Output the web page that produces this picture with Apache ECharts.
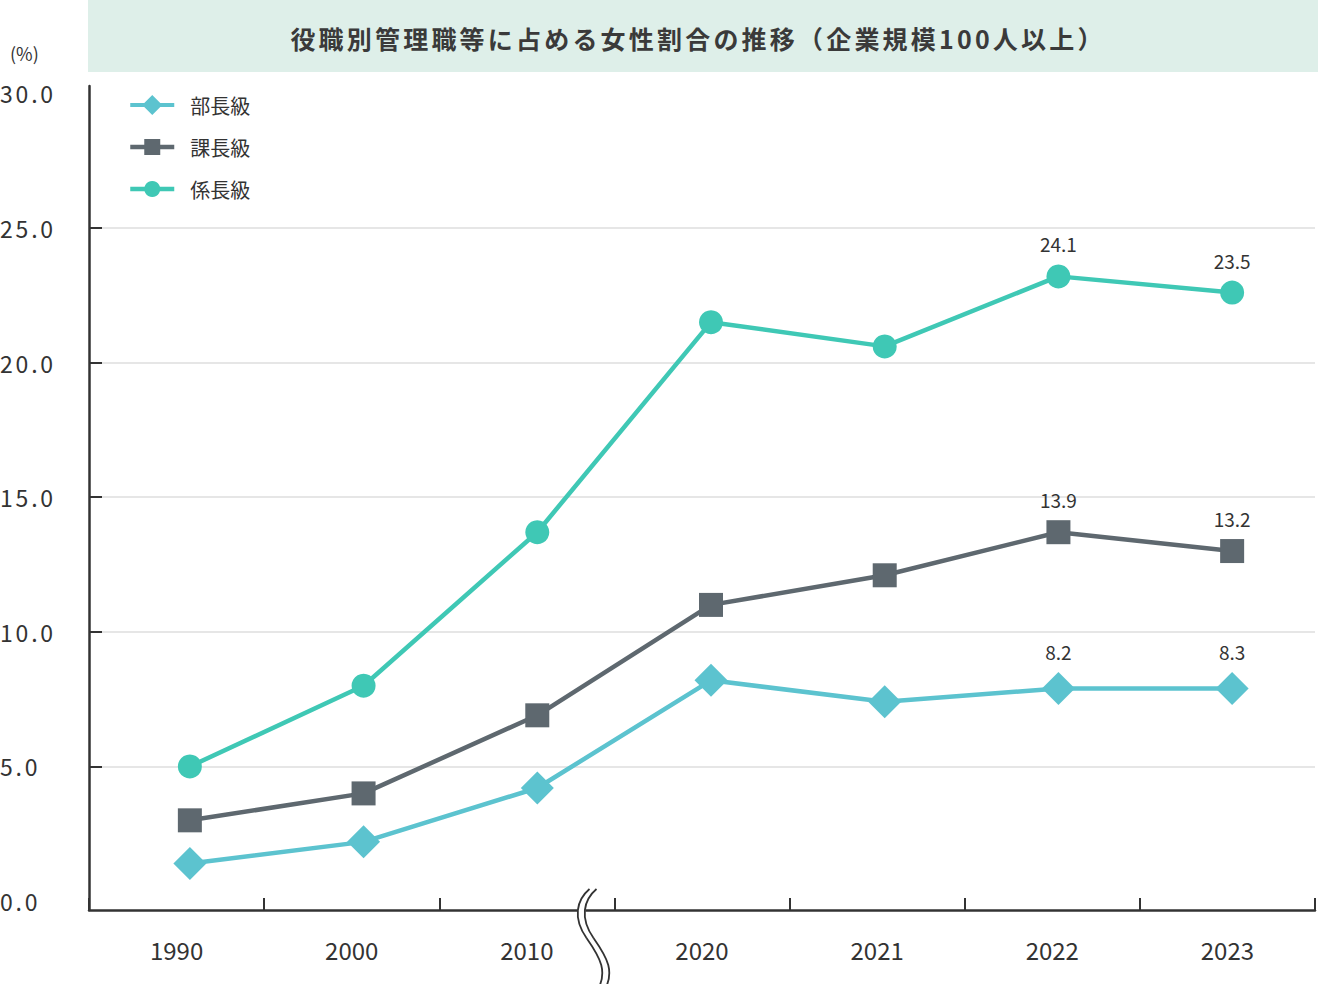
<!DOCTYPE html>
<html>
<head>
<meta charset="utf-8">
<script src="https://cdn.jsdelivr.net/npm/echarts@6/dist/echarts.min.js"></script>
<style>
  html, body { margin: 0; padding: 0; background: #fff; }
  #chart { width: 1318px; height: 984px; }
  #chart text[style*="25px"] { letter-spacing: 3.2px; }
  #chart text[style*="23px"] { letter-spacing: 2.8px; }
</style>
</head>
<body>
<div id="chart"></div>
<script>
const titleText = '役職別管理職等に占める女性割合の推移（企業規模100人以上）';
const unitText = '(%)';
const categories = ['1990', '2000', '2010', '2020', '2021', '2022', '2023'];
const seriesNames = ['部長級', '課長級', '係長級'];
const buchoValues = [1.4, 2.2, 4.2, 8.2, 7.4, 7.9, 7.9];
const kachoValues = [3.0, 4.0, 6.9, 11.0, 12.1, 13.7, 13.0];
const kakarichoValues = [5.0, 8.0, 13.7, 21.5, 20.6, 23.2, 22.6];
const buchoLabels = ['', '', '', '', '', '8.2', '8.3'];
const kachoLabels = ['', '', '', '', '', '13.9', '13.2'];
const kakarichoLabels = ['', '', '', '', '', '24.1', '23.5'];
const yLabelValues = [0, 5, 10, 15, 20, 25, 30];
const yTickValues = [5, 10, 15, 20, 25];

const FONT = "'Noto Sans CJK JP', 'Noto Sans', sans-serif";
const TEXT = '#333333';
const AXIS = '#333333';
const C_BUCHO = '#5cc3cf';
const C_KACHO = '#5e686f';
const C_KAKARI = '#3fc8b5';
const Y_MIN = -0.33, Y_MAX = 30.27;

const chart = echarts.init(document.getElementById('chart'), null, { renderer: 'svg' });

function mkSeries(name, values, labels, symbol, size, color) {
  return {
    name: name, type: 'line', xAxisIndex: 1, yAxisIndex: 1,
    data: values, symbol: symbol, symbolSize: size,
    lineStyle: { color: color, width: 4.5 },
    itemStyle: { color: color },
    emphasis: { disabled: true },
    label: {
      show: true, position: 'top', distance: 11,
      color: TEXT, fontSize: 19, fontFamily: FONT,
      formatter: function (p) { return labels[p.dataIndex]; }
    },
    z: 3
  };
}

// break mark (two S-curves), drawn as decoration
const breakSegs = [
  { x1: 593, y1: 889, cpx1: 580, cpy1: 900, cpx2: 576, cpy2: 918, x2: 590, y2: 938 },
  { x1: 590, y1: 938, cpx1: 604, cpy1: 958, cpx2: 612, cpy2: 972, x2: 600, y2: 992 }
];
const breakGraphics = [];
breakSegs.forEach(function (s) {
  breakGraphics.push({ type: 'bezierCurve', shape: s, style: { fill: null, stroke: '#ffffff', lineWidth: 8 }, z: 100 });
  breakGraphics.push({ type: 'bezierCurve', x: -3.5, shape: s, style: { fill: null, stroke: AXIS, lineWidth: 1.8 }, z: 101 });
  breakGraphics.push({ type: 'bezierCurve', x: 3.5, shape: s, style: { fill: null, stroke: AXIS, lineWidth: 1.8 }, z: 101 });
});

chart.setOption({
  animation: false,
  backgroundColor: '#ffffff',
  textStyle: { fontFamily: FONT },
  grid: [
    { left: 89, right: 3, top: 86, bottom: 74, outerBoundsMode: 'none', containLabel: false },
    { left: 103, right: -1, top: 86, bottom: 74, outerBoundsMode: 'none', containLabel: false }
  ],
  legend: {
    orient: 'vertical', left: 128, top: 95, padding: 0,
    itemWidth: 44, itemHeight: 20, itemGap: 22,
    selectedMode: false,
    lineStyle: { width: 4.5 },
    textStyle: { fontSize: 20, color: TEXT, fontFamily: FONT, padding: [0, 0, 0, 11] },
    data: [
      { name: seriesNames[0], icon: 'path://M0,8 H44 V12 H0 Z M22,0 L32,10 L22,20 L12,10 Z' },
      { name: seriesNames[1] },
      { name: seriesNames[2] }
    ]
  },
  xAxis: [
    {
      type: 'category', gridIndex: 0, data: categories, boundaryGap: true,
      axisLine: { show: true, onZero: false, lineStyle: { color: AXIS, width: 2.5 } },
      axisTick: { show: true, inside: true, length: 12, lineStyle: { color: AXIS, width: 2 } },
      axisLabel: { color: TEXT, fontSize: 24, fontFamily: FONT, margin: 27 },
      splitLine: { show: false }
    },
    {
      type: 'category', gridIndex: 1, data: categories, boundaryGap: true, show: false
    }
  ],
  yAxis: [
    {
      type: 'value', gridIndex: 0, min: Y_MIN, max: Y_MAX,
      axisLine: { show: true, onZero: false, lineStyle: { color: AXIS, width: 2.5 } },
      axisTick: { show: true, inside: true, length: 13, customValues: yTickValues, lineStyle: { color: AXIS, width: 2 } },
      axisLabel: {
        customValues: yLabelValues, color: TEXT, fontSize: 23, fontFamily: FONT,
        align: 'left', margin: 89,
        formatter: function (v) { return Number(v).toFixed(1); }
      },
      splitLine: { show: true, lineStyle: { color: '#e6e6e6', width: 2 } }
    },
    { type: 'value', gridIndex: 1, min: Y_MIN, max: Y_MAX, show: false }
  ],
  graphic: [
    { type: 'rect', shape: { x: 88, y: 0, width: 1230, height: 72 }, style: { fill: '#deefe9' }, z: -10 },
    { type: 'text', x: 698, y: 38, style: { text: titleText, font: 'bold 25px ' + FONT, fill: '#3a3a3a', textAlign: 'center', textVerticalAlign: 'middle' }, z: 10 },
    { type: 'text', x: 10, y: 53, style: { text: unitText, font: '18px ' + FONT, fill: TEXT, textAlign: 'left', textVerticalAlign: 'middle' }, z: 10 }
  ].concat(breakGraphics),
  series: [
    mkSeries(seriesNames[0], buchoValues, buchoLabels, 'diamond', 33, C_BUCHO),
    mkSeries(seriesNames[1], kachoValues, kachoLabels, 'rect', 24, C_KACHO),
    mkSeries(seriesNames[2], kakarichoValues, kakarichoLabels, 'circle', 24, C_KAKARI)
  ]
});
</script>
</body>
</html>
